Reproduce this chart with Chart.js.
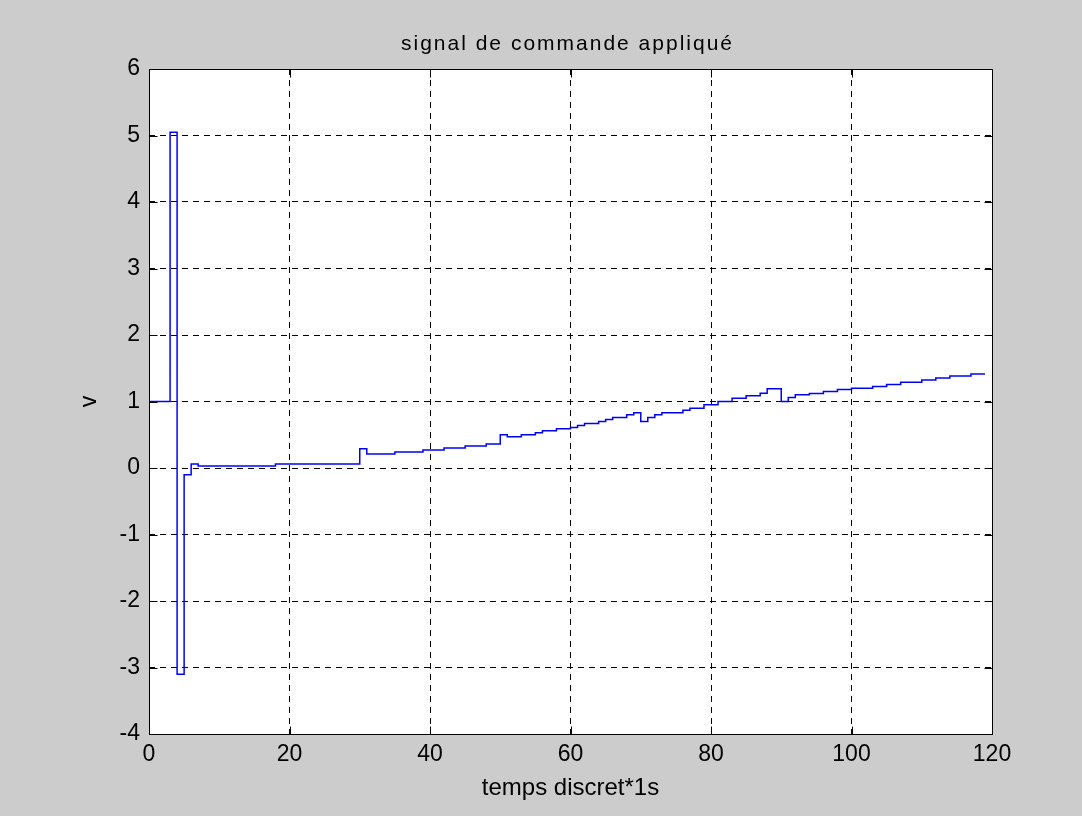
<!DOCTYPE html>
<html>
<head>
<meta charset="utf-8">
<title>signal de commande appliqué</title>
<script src="https://cdn.jsdelivr.net/npm/chart.js@4.4.0/dist/chart.umd.min.js"></script>
<style>
  html, body { margin: 0; padding: 0; background: #cccccc; }
  canvas { display: block; }
</style>
</head>
<body>
<canvas id="myChart" width="1082" height="816"></canvas>
<script>
// Instants (s) où le signal de commande change de niveau
var instants = [0, 3, 4, 5, 6, 7, 18, 30, 31, 35, 39, 42, 45, 48, 50, 51, 53, 55, 56, 58,
                60, 61, 62, 64, 65, 66, 68, 69, 70, 71, 72, 73, 76, 77, 79, 81, 83, 85, 87, 88,
                90, 91, 92, 94, 96, 98, 100, 103, 105, 107, 110, 112, 114, 117];
// Niveau tenu à partir de chaque instant
var niveaux = [1.0, 5.05, -3.1, -0.1, 0.06, 0.03, 0.06, 0.29, 0.21, 0.24, 0.27, 0.30, 0.33, 0.36, 0.50, 0.47, 0.50, 0.53, 0.56, 0.59,
               0.61, 0.64, 0.67, 0.70, 0.73, 0.76, 0.80, 0.83, 0.70, 0.76, 0.80, 0.83, 0.87, 0.90, 0.95, 1.00, 1.05, 1.085, 1.125, 1.19,
               1.00, 1.06, 1.10, 1.12, 1.15, 1.18, 1.20, 1.225, 1.255, 1.29, 1.325, 1.355, 1.385, 1.415];
// Dernier échantillon
var tFin = 119;
// Graduations
var ticksX = [0, 20, 40, 60, 80, 100, 120];
var ticksY = [-4, -3, -2, -1, 0, 1, 2, 3, 4, 5, 6];

var titre = "signal de commande appliqué";
var police = "'Liberation Sans', Arial, sans-serif";

// Points du signal en escalier
var points = instants.map(function (t, i) { return { x: t, y: niveaux[i] }; });
points.push({ x: tFin, y: niveaux[niveaux.length - 1] });

// Fond gris de la figure, zone blanche des axes
var fondMatlab = {
    id: 'fondMatlab',
    beforeDraw: function (chart) {
        var ctx = chart.ctx, a = chart.chartArea;
        ctx.save();
        ctx.fillStyle = '#cccccc';
        ctx.fillRect(0, 0, chart.width, chart.height);
        ctx.fillStyle = '#ffffff';
        ctx.fillRect(a.left, a.top, a.right - a.left, a.bottom - a.top);
        ctx.restore();
    },
    afterDraw: function (chart) {
        var ctx = chart.ctx, a = chart.chartArea, sx = chart.scales.x, sy = chart.scales.y;
        var x0 = Math.round(a.left) + 0.5, x1 = Math.round(a.right) + 0.5;
        var y0 = Math.round(a.top) + 0.5, y1 = Math.round(a.bottom) + 0.5;
        var lg = 8;
        ctx.save();
        ctx.strokeStyle = '#000000';
        ctx.lineWidth = 1;
        ctx.setLineDash([]);
        ctx.strokeRect(x0, y0, x1 - x0, y1 - y0);
        // Graduations vers l'intérieur sur les quatre côtés
        ctx.beginPath();
        ticksX.forEach(function (v) {
            var px = Math.round(sx.getPixelForValue(v)) + 0.5;
            ctx.moveTo(px, y1); ctx.lineTo(px, y1 - lg);
            ctx.moveTo(px, y0); ctx.lineTo(px, y0 + lg);
        });
        ticksY.forEach(function (v) {
            var py = Math.round(sy.getPixelForValue(v)) + 0.5;
            ctx.moveTo(x0, py); ctx.lineTo(x0 + lg, py);
            ctx.moveTo(x1, py); ctx.lineTo(x1 - lg, py);
        });
        ctx.stroke();
        // Titre
        ctx.fillStyle = '#000000';
        ctx.font = '21px ' + police;
        ctx.letterSpacing = '2px';
        ctx.textAlign = 'center';
        ctx.textBaseline = 'alphabetic';
        ctx.fillText(titre, (a.left + a.right) / 2 - 3, 50);
        ctx.restore();
    }
};

var ctx = document.getElementById("myChart").getContext("2d");
var chart = new Chart(ctx, {
    type: 'line',
    data: {
        datasets: [{
            label: 'v',
            data: points,
            stepped: 'before',
            borderColor: '#0000ff',
            borderWidth: 1.5,
            pointRadius: 0,
            fill: false
        }]
    },
    options: {
        responsive: false,
        animation: false,
        layout: { padding: { left: 0, right: 90, top: 69, bottom: 0 } },
        plugins: {
            legend: { display: false },
            tooltip: { enabled: false }
        },
        scales: {
            x: {
                type: 'linear',
                min: ticksX[0],
                max: ticksX[ticksX.length - 1],
                afterBuildTicks: function (s) { s.ticks = ticksX.map(function (v) { return { value: v }; }); },
                afterFit: function (s) { s.height = 82; },
                grid: { color: '#000000', lineWidth: 1, drawTicks: false },
                border: { display: false, dash: [6, 5] },
                ticks: { color: '#000000', font: { family: police, size: 23 }, padding: 7, maxRotation: 0, autoSkip: false },
                title: { display: true, text: 'temps discret*1s', color: '#000000',
                         font: { family: police, size: 24 }, padding: { top: 0, bottom: 13 } }
            },
            y: {
                type: 'linear',
                min: ticksY[0],
                max: ticksY[ticksY.length - 1],
                afterBuildTicks: function (s) { s.ticks = ticksY.map(function (v) { return { value: v }; }); },
                afterFit: function (s) { s.width = 149; },
                grid: { color: '#000000', lineWidth: 1, drawTicks: false },
                border: { display: false, dash: [6, 5] },
                ticks: { color: '#000000', font: { family: police, size: 23 }, padding: 9, autoSkip: false },
                title: { display: true, text: 'v', color: '#000000',
                         font: { family: police, size: 23 }, padding: { top: 76, bottom: 0 } }
            }
        }
    },
    plugins: [fondMatlab]
});
</script>
</body>
</html>
